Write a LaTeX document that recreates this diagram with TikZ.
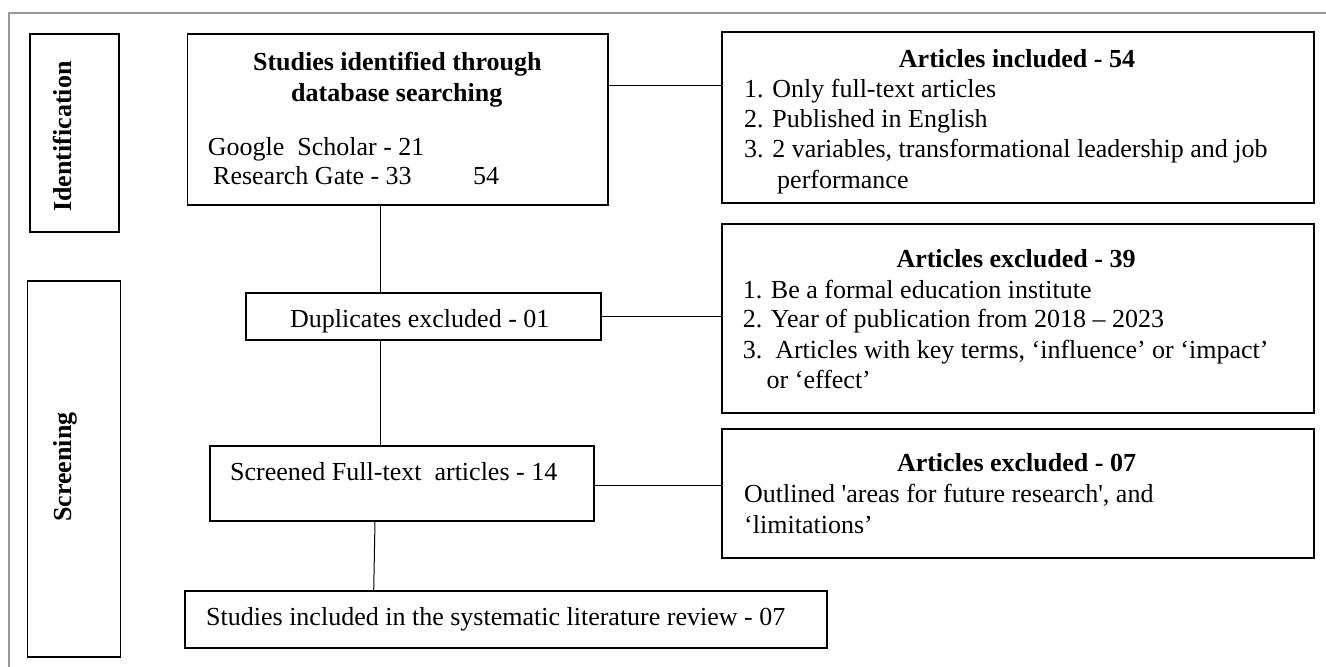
\documentclass[tikz,border=0pt]{standalone}
\usepackage{fontspec}
\setmainfont{Liberation Serif}
\begin{document}
\begin{tikzpicture}[x=1pt,y=-1pt,
  box/.style={draw, line width=1.3pt, inner sep=0pt, rectangle},
  txt/.style={inner sep=0pt, anchor=base west},
  ctxt/.style={inner sep=0pt, anchor=base, font=\bfseries},
  conn/.style={line width=1pt},
  every node/.append style={font=\fontsize{26pt}{30.5pt}\selectfont}]
\useasboundingbox (0,0) rectangle (1326,667);
% outer frame
\draw[black!40, line width=1.2pt] (9,667) -- (9,13) -- (1326,13);

% side labels
\node[box, minimum width=89pt, minimum height=198pt] (ident) at (74.5,133) {};
\node[inner sep=0pt, rotate=90, anchor=base, font=\fontsize{26pt}{30.5pt}\selectfont\bfseries] (identlbl) at (71,136.5) {Identification};
\node[box, minimum width=93pt, minimum height=376pt] (screen) at (74,469) {};
\node[inner sep=0pt, rotate=90, anchor=base, font=\fontsize{26pt}{30.5pt}\selectfont\bfseries] (screenlbl) at (71,467) {Screening};

% main boxes
\node[box, minimum width=420.5pt, minimum height=171pt] (studies) at (397.75,119.5) {};
\node[box, minimum width=355pt, minimum height=47pt] (dup) at (423.5,316.5) {};
\node[box, minimum width=384pt, minimum height=75pt] (scr) at (402,483.5) {};
\node[box, minimum width=642pt, minimum height=57pt] (final) at (506,619.5) {};
\node[box, minimum width=592pt, minimum height=171pt] (incl) at (1018,117.5) {};
\node[box, minimum width=592pt, minimum height=189pt] (exa) at (1018,318.5) {};
\node[box, minimum width=592pt, minimum height=129pt] (exb) at (1018,493.5) {};

% texts: studies
\node[ctxt, font=\fontsize{26pt}{30.5pt}\selectfont\bfseries] (st1) at (397.3,70) {Studies identified through};
\node[ctxt, font=\fontsize{26pt}{30.5pt}\selectfont\bfseries] (st2) at (396.8,101) {database searching};
\node[txt] (st3) at (207.6,155) {Google\ \ Scholar - 21};
\node[txt] (st4) at (213,184) {Research Gate - 33};
\node[txt] (st5) at (473,184) {54};

% included
\node[ctxt, font=\fontsize{26pt}{30.5pt}\selectfont\bfseries] (in0) at (1017,67) {Articles included - 54};
\node[txt] (in1) at (744,97) {1. Only full-text articles};
\node[txt] (in2) at (744,127) {2. Published in English};
\node[txt] (in3) at (744,157) {3. 2 variables, transformational leadership and job};
\node[txt] (in4) at (777,188) {performance};

% excluded 39
\node[ctxt, font=\fontsize{26pt}{30.5pt}\selectfont\bfseries] (ea0) at (1016,267) {Articles excluded - 39};
\node[txt] (ea1) at (742.6,298) {1. Be a formal education institute};
\node[txt] (ea2) at (742.6,327) {2. Year of publication from 2018 – 2023};
\node[txt] (ea3) at (742.6,358) {3.\ \ Articles with key terms, ‘influence’ or ‘impact’};
\node[txt] (ea4) at (766.5,388) {or ‘effect’};

% excluded 07
\node[ctxt, font=\fontsize{26pt}{30.5pt}\selectfont\bfseries] (eb0) at (1016.5,471) {Articles excluded - 07};
\node[txt] (eb1) at (744,502) {Outlined \textquotesingle areas for future research\textquotesingle, and};
\node[txt] (eb2) at (744,533) {‘limitations’};

% left column texts
\node[txt] (dupt) at (290,327) {Duplicates excluded - 01};
\node[txt] (scrt) at (230,480) {Screened Full-text\ \ articles - 14};
\node[txt] (fint) at (206,625) {Studies included in the systematic literature review - 07};

% connectors
\coordinate (c1) at (0,85);
\coordinate (c2) at (0,316.5);
\coordinate (c3) at (0,485);
\coordinate (v1) at (380,0);
\draw[conn] (studies.east |- c1) -- (incl.west |- c1);
\draw[conn] (dup.east |- c2) -- (exa.west |- c2);
\draw[conn] (scr.east |- c3) -- (exb.west |- c3);
\draw[conn] (studies.south -| v1) -- (dup.north -| v1);
\draw[conn] (dup.south -| v1) -- (scr.north -| v1);
\coordinate (v2) at (375,0);
\coordinate (v3) at (373.7,0);
\draw[conn] (scr.south -| v2) -- (final.north -| v3);
\end{tikzpicture}
\end{document}
